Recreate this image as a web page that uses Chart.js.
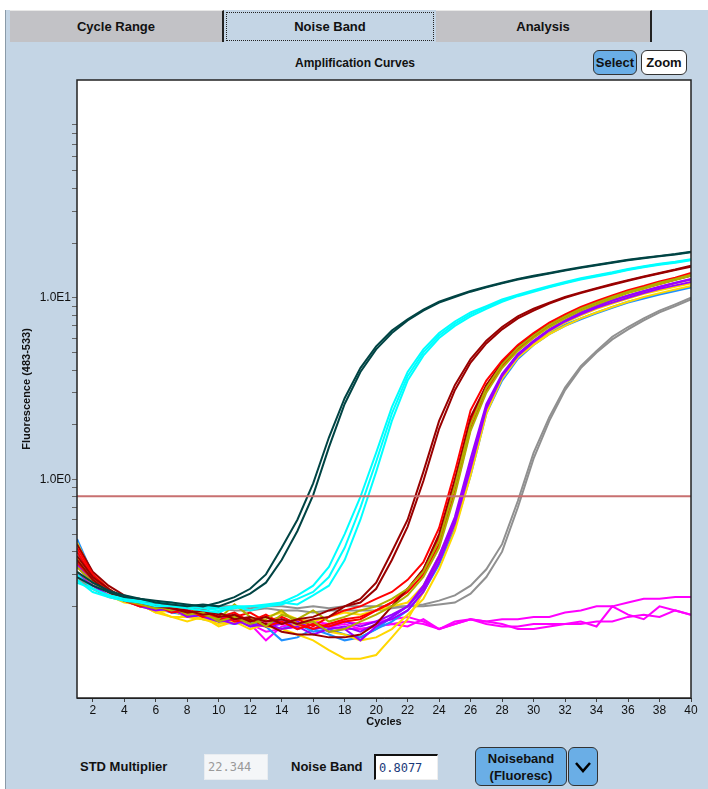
<!DOCTYPE html>
<html>
<head>
<meta charset="utf-8">
<script src="https://cdn.jsdelivr.net/npm/chart.js@4.4.1/dist/chart.umd.min.js"></script>
<style>
  body { margin: 0; width: 708px; height: 789px; background: #fff; overflow: hidden; position: relative;
         font-family: 'Liberation Sans', Arial, sans-serif; }
  #panel { position: absolute; left: 5px; top: 10px; width: 703px; height: 779px; background: #c4d5e5;
           border-left: 1px solid #8a9aa8; box-sizing: border-box; }
  .tab { position: absolute; top: 10px; height: 32px; line-height: 32px; text-align: center;
         font-weight: bold; font-size: 13px; color: #111; box-sizing: border-box; }
  .tab.off { background: #c2c2c6; border-right: 2px solid #222; border-top: 1px solid #e8e8e8; }
  .tab.on { background: #c4d5e5; }
  .tab.on span { display: block; position: absolute; left: 2px; top: 2px; right: 2px; bottom: 1px;
                 border: 1px dotted #222; line-height: 28px; }
  #title { position: absolute; left: 255px; width: 200px; top: 56px; text-align: center;
           font-weight: bold; font-size: 12px; color: #111; }
  .btn { position: absolute; top: 50px; height: 25px; box-sizing: border-box; border: 1px solid #333;
         border-radius: 6px; font-weight: bold; font-size: 13px; line-height: 23px; text-align: center; color: #111; }
  #chartBox { position: absolute; left: 5px; top: 44px; width: 703px; height: 700px; }
  .lbl { position: absolute; top: 759px; font-weight: bold; font-size: 13px; color: #111; }
  .inp { position: absolute; top: 754px; height: 26px; box-sizing: border-box; font-family: 'DejaVu Sans Mono', monospace;
         font-size: 12px; line-height: 24px; padding-left: 3px; }
</style>
</head>
<body>
<div id="panel"></div>
<div class="tab off" style="left:10px;width:214px;">Cycle Range</div>
<div class="tab on" style="left:224px;width:212px;"><span>Noise Band</span></div>
<div class="tab off" style="left:436px;width:216px;">Analysis</div>
<div id="title">Amplification Curves</div>
<div class="btn" style="left:593px;width:44px;background:#6aaee6;">Select</div>
<div class="btn" style="left:641px;width:46px;background:#fff;">Zoom</div>
<div id="chartBox"><canvas id="chart" width="703" height="700"></canvas></div>
<div class="lbl" style="left:80px;">STD Multiplier</div>
<div class="inp" style="left:204px;width:64px;background:#f4f6f8;border:1px solid #e8ecf0;color:#9a9a9a;">22.344</div>
<div class="lbl" style="left:291px;">Noise Band</div>
<div class="inp" style="left:374px;width:64px;background:#fff;border-top:2px solid #111;border-left:2px solid #111;border-right:1px solid #eee;border-bottom:1px solid #eee;color:#1a3a7a;">0.8077</div>
<div class="btn" style="left:475px;top:747px;width:92px;height:39px;background:#6aaee6;line-height:17px;padding-top:2px;font-size:13px;">Noiseband<br>(Fluoresc)</div>
<div class="btn" style="left:568px;top:747px;width:30px;height:39px;background:#6aaee6;">
  <svg width="20" height="14" style="margin-top:12px"><polyline points="3,3 10,11 17,3" fill="none" stroke="#000" stroke-width="2.5"/></svg>
</div>

<script>
// --- DATA ---
const cycles = [1,2,3,4,5,6,7,8,9,10,11,12,13,14,15,16,17,18,19,20,21,22,23,24,25,26,27,28,29,30,31,32,33,34,35,36,37,38,39,40];
const xTicks = [2,4,6,8,10,12,14,16,18,20,22,24,26,28,30,32,34,36,38,40];
const yTicks = [0.2,0.3,0.4,0.5,0.6,0.7,0.8,0.9,1,2,3,4,5,6,7,8,9,10,20,30,40,50,60,70,80,90];
const noiseBand = 0.8077;

const teal1 = [0.31,0.27,0.245,0.23,0.22,0.215,0.21,0.205,0.2,0.21,0.225,0.25,0.3,0.42,0.6,0.95,1.7,2.8,4.1,5.4,6.6,7.6,8.6,9.5,10.2,10.9,11.5,12.1,12.7,13.2,13.7,14.2,14.7,15.2,15.7,16.2,16.6,17.0,17.4,17.9];
const teal2 = [0.29,0.26,0.24,0.225,0.22,0.21,0.205,0.2,0.205,0.2,0.215,0.235,0.27,0.36,0.52,0.82,1.5,2.6,3.9,5.2,6.4,7.5,8.5,9.4,10.1,10.8,11.4,12.0,12.6,13.1,13.6,14.1,14.6,15.1,15.6,16.1,16.5,16.9,17.3,17.8];

const cyan1 = [0.30,0.25,0.23,0.22,0.215,0.21,0.21,0.2,0.2,0.195,0.2,0.2,0.205,0.21,0.23,0.26,0.33,0.5,0.8,1.4,2.5,3.9,5.2,6.4,7.4,8.3,9.0,9.8,10.4,11.0,11.6,12.2,12.8,13.3,13.8,14.4,14.9,15.4,15.8,16.3];
const cyan2 = [0.28,0.24,0.225,0.215,0.21,0.205,0.2,0.2,0.195,0.19,0.195,0.2,0.2,0.205,0.22,0.24,0.29,0.42,0.7,1.25,2.3,3.7,5.0,6.2,7.2,8.1,8.9,9.6,10.3,10.9,11.5,12.1,12.7,13.2,13.7,14.3,14.8,15.3,15.7,16.2];
const cyan3 = [0.27,0.25,0.23,0.22,0.21,0.2,0.2,0.195,0.19,0.185,0.2,0.19,0.2,0.21,0.205,0.23,0.26,0.36,0.6,1.1,2.1,3.5,4.8,6.0,7.0,7.9,8.7,9.5,10.2,10.8,11.4,12.0,12.6,13.1,13.6,14.2,14.7,15.2,15.6,16.1];

const darkRed1 = [0.38,0.29,0.25,0.22,0.21,0.205,0.195,0.19,0.18,0.185,0.17,0.175,0.165,0.17,0.16,0.17,0.175,0.2,0.22,0.27,0.4,0.6,1.1,2.1,3.3,4.6,5.8,6.9,7.9,8.7,9.4,10.1,10.7,11.3,11.9,12.5,13.1,13.7,14.3,15.0];
const darkRed2 = [0.36,0.28,0.24,0.215,0.21,0.2,0.195,0.185,0.19,0.175,0.18,0.165,0.175,0.16,0.17,0.175,0.19,0.2,0.21,0.25,0.36,0.55,0.98,1.9,3.1,4.4,5.6,6.7,7.7,8.5,9.3,10.0,10.6,11.2,11.8,12.4,13.0,13.6,14.2,14.8];
const darkRed3 = [0.44,0.31,0.26,0.23,0.215,0.205,0.2,0.195,0.19,0.18,0.175,0.17,0.16,0.145,0.14,0.14,0.135,0.135,0.14,0.16,0.2,0.25,0.32,0.5,1.0,2.2,3.3,4.4,5.4,6.3,7.1,7.9,8.7,9.4,10.1,10.8,11.4,12.0,12.6,13.2];

const red1 = [0.42,0.3,0.25,0.22,0.21,0.2,0.2,0.185,0.195,0.175,0.185,0.165,0.18,0.16,0.17,0.155,0.175,0.19,0.2,0.22,0.24,0.28,0.35,0.54,1.1,2.4,3.5,4.5,5.5,6.4,7.3,8.1,8.9,9.6,10.3,11.0,11.6,12.3,12.9,13.7];
const red2 = [0.35,0.28,0.24,0.215,0.2,0.205,0.185,0.19,0.175,0.185,0.165,0.17,0.155,0.165,0.15,0.16,0.155,0.165,0.17,0.19,0.21,0.25,0.32,0.48,0.95,2.1,3.3,4.3,5.3,6.2,7.1,7.9,8.7,9.4,10.1,10.8,11.4,12.0,12.7,13.4];
const red3 = [0.4,0.29,0.245,0.215,0.205,0.195,0.2,0.18,0.19,0.17,0.175,0.185,0.165,0.175,0.16,0.15,0.16,0.17,0.175,0.19,0.21,0.24,0.3,0.44,0.85,1.9,3.1,4.2,5.2,6.1,7.0,7.8,8.6,9.3,10.0,10.7,11.3,11.9,12.6,13.3];

const olive1 = [0.33,0.27,0.24,0.22,0.21,0.2,0.19,0.2,0.18,0.17,0.205,0.175,0.155,0.18,0.17,0.19,0.165,0.175,0.19,0.2,0.22,0.25,0.31,0.46,0.92,2.0,3.2,4.3,5.3,6.2,7.1,7.9,8.7,9.4,10.1,10.8,11.4,12.1,12.7,13.4];
const olive2 = [0.36,0.28,0.24,0.215,0.205,0.195,0.2,0.18,0.185,0.165,0.175,0.16,0.17,0.19,0.16,0.165,0.145,0.15,0.165,0.18,0.2,0.23,0.29,0.42,0.82,1.85,3.0,4.1,5.1,6.0,6.9,7.7,8.5,9.2,9.9,10.6,11.2,11.9,12.5,13.2];

const gold1 = [0.37,0.28,0.24,0.215,0.2,0.19,0.175,0.175,0.17,0.165,0.165,0.16,0.155,0.15,0.14,0.13,0.115,0.103,0.103,0.108,0.135,0.17,0.24,0.36,0.56,1.15,2.4,3.6,4.7,5.6,6.5,7.3,8.0,8.7,9.3,9.9,10.5,11.0,11.5,12.0];
const gold2 = [0.31,0.26,0.23,0.21,0.205,0.185,0.19,0.175,0.17,0.16,0.165,0.15,0.16,0.165,0.155,0.16,0.145,0.14,0.13,0.135,0.15,0.18,0.22,0.32,0.52,1.05,2.3,3.6,4.7,5.5,6.3,7.0,7.7,8.3,8.9,9.5,10.1,10.6,11.1,11.6];
const gold3 = [0.45,0.3,0.25,0.22,0.205,0.185,0.175,0.165,0.175,0.155,0.165,0.17,0.175,0.185,0.17,0.165,0.175,0.185,0.18,0.19,0.2,0.21,0.26,0.38,0.6,1.25,2.5,3.7,4.8,5.7,6.6,7.4,8.2,8.9,9.6,10.2,10.8,11.4,12.0,12.6];

const blue1 = [0.47,0.3,0.24,0.215,0.2,0.195,0.185,0.18,0.17,0.165,0.16,0.165,0.155,0.13,0.135,0.15,0.14,0.13,0.135,0.15,0.175,0.2,0.25,0.37,0.58,1.15,2.4,3.6,4.7,5.6,6.4,7.1,7.7,8.3,8.9,9.5,10.0,10.5,11.0,11.5];
const blue2 = [0.4,0.29,0.24,0.22,0.205,0.195,0.19,0.175,0.18,0.165,0.17,0.155,0.16,0.15,0.16,0.145,0.15,0.14,0.135,0.15,0.165,0.19,0.24,0.34,0.54,1.05,2.3,3.5,4.6,5.5,6.3,7.0,7.6,8.2,8.8,9.4,9.9,10.4,10.9,11.4];

const purple1 = [0.34,0.27,0.24,0.22,0.205,0.2,0.185,0.19,0.175,0.165,0.18,0.16,0.155,0.17,0.15,0.16,0.145,0.15,0.13,0.155,0.175,0.2,0.26,0.38,0.62,1.3,2.6,3.8,4.9,5.8,6.7,7.5,8.3,9.0,9.7,10.3,10.9,11.5,12.1,12.7];
const purple2 = [0.3,0.26,0.23,0.215,0.2,0.19,0.195,0.175,0.18,0.165,0.17,0.155,0.16,0.15,0.155,0.14,0.15,0.155,0.145,0.16,0.17,0.19,0.24,0.35,0.57,1.15,2.45,3.7,4.8,5.7,6.6,7.4,8.1,8.8,9.4,10.0,10.6,11.2,11.7,12.2];
const purple3 = [0.36,0.28,0.24,0.215,0.205,0.2,0.19,0.18,0.185,0.17,0.16,0.17,0.155,0.16,0.165,0.15,0.155,0.165,0.155,0.165,0.18,0.2,0.25,0.37,0.6,1.2,2.5,3.75,4.85,5.75,6.65,7.45,8.25,8.95,9.65,10.25,10.85,11.45,12.05,12.6];

const gray1 = [0.29,0.25,0.23,0.22,0.215,0.21,0.205,0.2,0.2,0.2,0.2,0.195,0.2,0.2,0.195,0.2,0.195,0.2,0.2,0.2,0.2,0.2,0.205,0.215,0.23,0.26,0.32,0.44,0.76,1.4,2.2,3.2,4.2,5.1,6.1,6.9,7.7,8.5,9.2,10.0];
const gray2 = [0.28,0.25,0.225,0.215,0.21,0.205,0.2,0.2,0.195,0.195,0.19,0.19,0.195,0.19,0.19,0.185,0.19,0.19,0.19,0.19,0.195,0.2,0.2,0.205,0.21,0.235,0.29,0.4,0.7,1.3,2.1,3.1,4.1,5.0,5.9,6.7,7.5,8.3,9.0,9.8];

const magenta1 = [0.33,0.27,0.245,0.225,0.21,0.2,0.19,0.185,0.18,0.17,0.165,0.16,0.13,0.155,0.16,0.15,0.155,0.16,0.15,0.155,0.16,0.155,0.17,0.15,0.165,0.17,0.165,0.17,0.17,0.175,0.175,0.185,0.19,0.2,0.2,0.21,0.22,0.22,0.225,0.225];
const magenta2 = [0.3,0.26,0.24,0.215,0.205,0.2,0.19,0.185,0.18,0.175,0.17,0.16,0.145,0.15,0.155,0.16,0.155,0.15,0.15,0.155,0.16,0.165,0.16,0.15,0.16,0.17,0.165,0.16,0.15,0.15,0.155,0.16,0.165,0.155,0.2,0.18,0.17,0.2,0.19,0.18];
const magenta3 = [0.35,0.28,0.24,0.22,0.21,0.2,0.195,0.19,0.18,0.18,0.17,0.165,0.165,0.16,0.17,0.165,0.16,0.165,0.16,0.165,0.17,0.175,0.165,0.15,0.16,0.17,0.16,0.155,0.155,0.16,0.16,0.16,0.16,0.165,0.165,0.175,0.18,0.175,0.19,0.18];

// first in list = drawn on top
const curves = [
  [teal1, '#004444'], [teal2, '#004444'],
  [cyan1, '#00ffff'], [cyan2, '#00ffff'], [cyan3, '#00ffff'],
  [darkRed1, '#990000'], [darkRed2, '#990000'],
  [olive1, '#b0b000'], [olive2, '#b0b000'],
  [red1, '#ff0000'], [darkRed3, '#990000'], [red2, '#ff0000'], [red3, '#ff0000'],
  [purple1, '#9900ff'], [purple2, '#9900ff'], [purple3, '#9900ff'],
  [gold1, '#ffd700'], [gold2, '#ffd700'], [gold3, '#ffd700'],
  [blue1, '#1e90ff'], [blue2, '#1e90ff'],
  [gray1, '#909090'], [gray2, '#909090'],
  [magenta1, '#ff00ff'], [magenta2, '#ff00ff'], [magenta3, '#ff00ff']
];

// --- CHART ---
const tickFont = { family: "'Liberation Sans', Arial, sans-serif", size: 12 };
const titleFont = { family: "'Liberation Sans', Arial, sans-serif", size: 11, weight: 'bold' };

const datasets = [{
  data: [{ x: cycles[0], y: noiseBand }, { x: cycles[cycles.length - 1], y: noiseBand }],
  borderColor: '#c87070', borderWidth: 2, pointRadius: 0
}];
curves.forEach(([vals, color]) => {
  datasets.push({
    data: cycles.map((c, i) => ({ x: c, y: vals[i] })),
    borderColor: color, borderWidth: 2, pointRadius: 0, tension: 0
  });
});

const plotFrame = {
  id: 'plotFrame',
  beforeDatasetsDraw(chart) {
    const { ctx, chartArea: a } = chart;
    ctx.save();
    ctx.fillStyle = '#fff';
    ctx.fillRect(a.left, a.top, a.right - a.left, a.bottom - a.top);
    ctx.restore();
  },
  afterDraw(chart) {
    const { ctx, chartArea: a } = chart;
    ctx.save();
    ctx.strokeStyle = '#222';
    ctx.lineWidth = 1.5;
    ctx.strokeRect(a.left, a.top, a.right - a.left, a.bottom - a.top);
    ctx.restore();
  }
};

new Chart(document.getElementById('chart'), {
  type: 'line',
  data: { datasets },
  plugins: [plotFrame],
  options: {
    responsive: false,
    animation: false,
    devicePixelRatio: 1,
    layout: { padding: { top: 36, right: 17, left: 0, bottom: 0 } },
    plugins: { legend: { display: false }, tooltip: { enabled: false } },
    scales: {
      x: {
        type: 'linear', min: 1, max: 40,
        afterBuildTicks: s => { s.ticks = xTicks.map(v => ({ value: v })); },
        afterFit: s => { s.height = 46; },
        grid: { drawOnChartArea: false, drawTicks: true, tickLength: 4, color: '#444' },
        border: { color: '#222' },
        ticks: { font: tickFont, color: '#111', padding: 1, maxRotation: 0 },
        title: { display: true, text: 'Cycles', font: titleFont, color: '#111', padding: { top: 0, bottom: 15 } }
      },
      y: {
        type: 'logarithmic', min: 0.0626, max: 158,
        afterBuildTicks: s => { s.ticks = yTicks.map(v => ({ value: v })); },
        afterFit: s => { s.width = 72; },
        grid: { drawOnChartArea: false, drawTicks: true, tickLength: 5, color: '#666' },
        border: { color: '#222' },
        ticks: {
          font: tickFont, color: '#111', padding: 1, autoSkip: false,
          callback: v => v === 1 ? '1.0E0' : (v === 10 ? '1.0E1' : '')
        },
        title: { display: true, text: 'Fluorescence (483-533)', font: titleFont, color: '#111', padding: { top: 15, bottom: 0 } }
      }
    }
  }
});
</script>
</body>
</html>
